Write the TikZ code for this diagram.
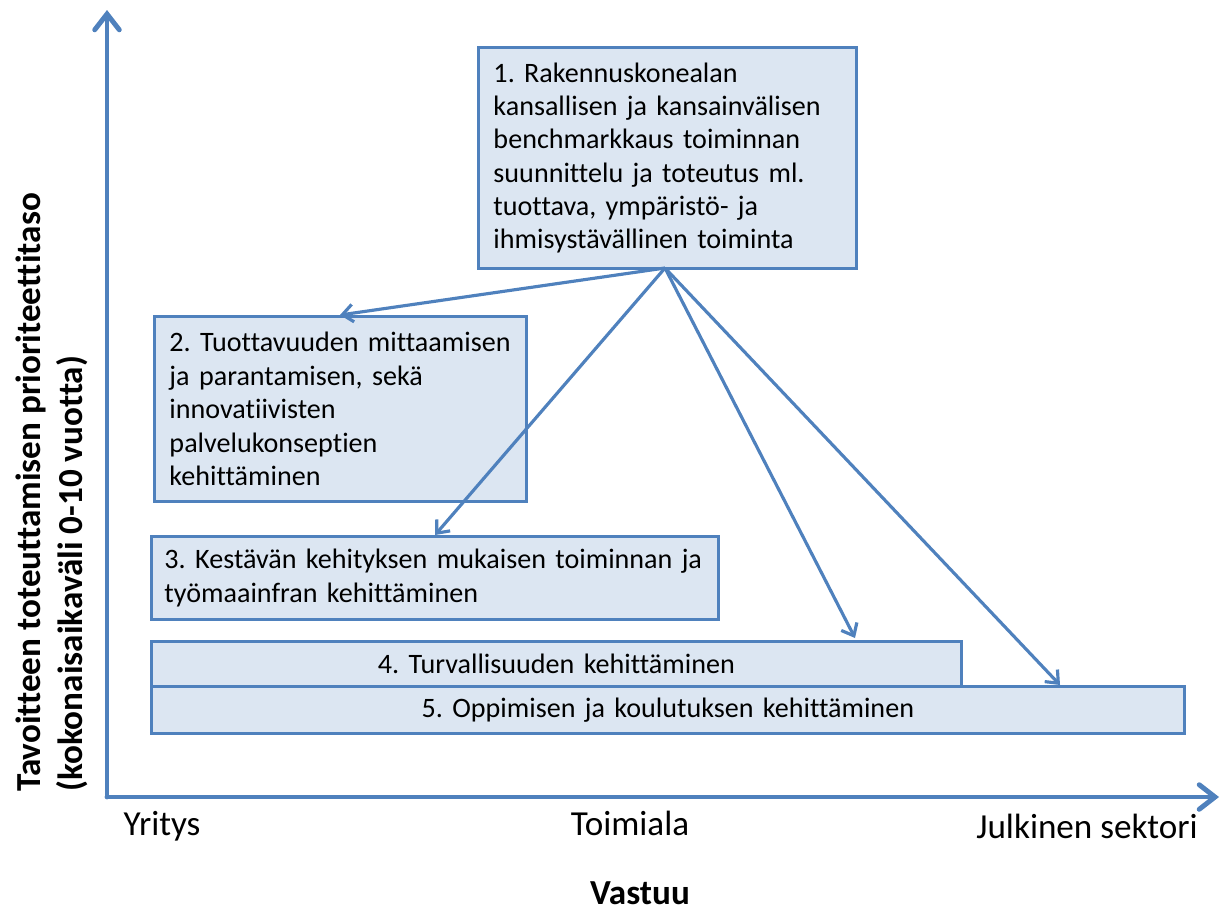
\documentclass[tikz,border=0pt]{standalone}
\usepackage{fontspec}
\setmainfont{Carlito}[Ligatures=NoCommon]
\usetikzlibrary{arrows.meta,positioning}
\definecolor{axisblue}{HTML}{4F81BD}
\definecolor{boxfill}{HTML}{DCE6F2}
\frenchspacing
\begin{document}
\begin{tikzpicture}[x=0.02cm, y=-0.02cm,
		box/.style={draw=axisblue, fill=boxfill, line width=1.7pt, inner xsep=0.3cm, inner ysep=0pt,
			font=\fontsize{16}{19}\selectfont, align=left, anchor=north west},
		axis/.style={draw=axisblue, line width=2.8pt, line cap=round,
			-{Straight Barb[length=9pt, width=14pt, line cap=round]}},
		link/.style={draw=axisblue, line width=1.8pt, -{Straight Barb[length=6pt, width=10pt]}},
		tick label/.style={font=\fontsize{20}{24}\selectfont}]
		
		\useasboundingbox (0,0) rectangle (1229,913);
		
		% axes
		\coordinate (O) at (107,797);
		\coordinate (ytop) at (107,10);
		\coordinate (xend) at (1219,797);
		\draw[axis] (O) -- (ytop);
		\draw[axis] (O) -- (xend);
		
		% boxes
		\node[box, minimum width=7.56cm, minimum height=4.42cm, text width=6.96cm] (1) at (477,46)
			{1. Rakennuskonealan\\ kansallisen ja kansainvälisen\\ benchmarkkaus toiminnan\\ suunnittelu ja toteutus ml.\\ tuottava, ympäristö- ja\\ ihmisystävällinen toiminta};
		\node[box, minimum width=7.44cm, minimum height=3.70cm, text width=6.84cm] (2) at (153,315)
			{2. Tuottavuuden mittaamisen\\ ja parantamisen, sekä\\ innovatiivisten\\ palvelukonseptien\\ kehittäminen};
		\node[box, inner xsep=0.26cm, minimum width=11.34cm, minimum height=1.66cm, text width=10.82cm] (3) at (150,535)
			{3. Kestävän kehityksen mukaisen toiminnan ja\\ työmaainfran kehittäminen};
		\node[box, minimum width=16.2cm, minimum height=0.9cm, text width=15.6cm, align=center] (4) at (150,640)
			{4. Turvallisuuden kehittäminen};
		\node[box, minimum width=20.66cm, minimum height=0.94cm, text width=20.06cm, align=center] (5) at (150,685)
			{5. Oppimisen ja koulutuksen kehittäminen};
		
		% arrows from box 1
		\coordinate (src) at (665,268);
		\draw[link] (src) -- (340,315);
		\draw[link] (src) -- (435,535);
		\draw[link] (src) -- (855,638);
		\draw[link] (src) -- (1060,685);
		
		% axis labels
		\node[tick label] (yritys) at (162,826) {Yritys};
		\node[tick label] (toimiala) at (630,823) {Toimiala};
		\node[tick label] (julkinen) at (1087,826) {Julkinen sektori};
		\node[tick label, font=\fontsize{20}{24}\selectfont\bfseries] (vastuu) at (640,893) {Vastuu};
		\node[font=\fontsize{20}{24}\selectfont\bfseries, rotate=90, anchor=west, align=left, inner sep=0pt] (tavoite) at (52,792)
			{Tavoitteen toteuttamisen prioriteettitaso\\ (kokonaisaikaväli 0-10 vuotta)};
		
	\end{tikzpicture}
\end{document}
